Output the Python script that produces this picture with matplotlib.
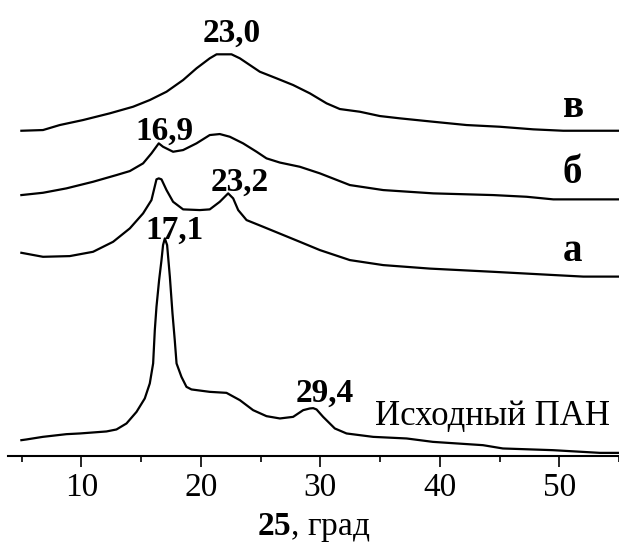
import matplotlib
matplotlib.use("Agg")
import matplotlib.pyplot as plt
from matplotlib.ticker import MultipleLocator

plt.rcParams['font.family'] = ['Liberation Serif', 'DejaVu Serif']
plt.rcParams['mathtext.fontset'] = 'custom'
plt.rcParams['mathtext.rm'] = 'Liberation Serif'
plt.rcParams['mathtext.bf'] = 'Liberation Serif:bold'

# исходный ПАН
x_pan = [4.97, 5.39, 6.76, 8.74, 9.86, 12.09, 12.93, 13.77, 14.61, 15.30, 15.72, 16.0,
         16.14, 16.28, 16.5, 16.7, 16.83, 16.98, 17.17, 17.40, 17.62, 17.81, 17.96, 18.37,
         18.79, 19.21, 20.74, 22.14, 23.26, 24.37, 25.49, 26.61, 27.72, 28.56, 29.12, 29.40,
         29.68, 30.23, 31.21, 32.19, 34.42, 37.22, 39.42, 43.61, 45.28, 49.47, 53.41, 55.0]
y_pan = [15.7, 16.4, 19.0, 21.7, 22.4, 24.4, 26.4, 32.4, 44.0, 57.4, 72.4, 92.4,
         125.7, 149.0, 175.7, 195.7, 210.7, 217.4, 210.7, 179.0, 142.4, 115.7, 92.4, 79.0,
         69.0, 66.4, 64.0, 63.0, 55.7, 45.7, 39.7, 37.4, 39.0, 45.7, 47.4, 47.7,
         46.4, 39.0, 27.4, 22.4, 19.0, 17.4, 14.0, 10.7, 7.4, 5.7, 3.0, 3.0]

# образец а
x_a = [4.97, 6.78, 9.02, 10.97, 12.65, 14.05, 15.16, 15.86, 16.28, 16.47, 16.70, 17.12,
       17.67, 18.51, 19.91, 20.74, 21.58, 22.28, 22.70, 23.12, 23.82, 25.21, 28.28, 29.96,
       32.47, 35.26, 39.17, 44.47, 49.64, 52.01, 55.0]
y_a = [203.0, 199.0, 199.7, 204.0, 214.0, 227.4, 242.4, 255.7, 276.4, 277.4, 276.4, 265.7,
       254.0, 246.4, 245.7, 246.4, 254.0, 262.4, 257.4, 245.7, 235.7, 229.0, 214.0, 205.7,
       195.7, 190.7, 187.2, 184.0, 180.7, 179.2, 179.2]

# образец б
x_b = [4.97, 6.78, 8.74, 10.97, 12.93, 14.05, 15.16, 15.86, 16.47, 16.83, 17.67, 18.51,
       19.63, 20.74, 21.58, 22.42, 23.53, 24.66, 25.49, 26.61, 28.28, 29.96, 32.47, 35.26,
       39.45, 44.47, 47.27, 49.50, 55.0]
y_b = [260.7, 263.0, 267.4, 274.0, 280.7, 284.7, 292.4, 302.4, 312.4, 309.0, 304.0, 305.7,
       312.4, 320.7, 321.7, 319.0, 312.4, 304.0, 297.4, 293.2, 289.0, 282.4, 270.7, 265.7,
       262.4, 260.7, 259.0, 256.4, 256.4]

# образец в
x_v = [4.97, 6.78, 8.18, 10.13, 12.37, 14.32, 15.72, 17.12, 18.51, 19.63, 20.74, 21.31,
       22.56, 23.26, 24.93, 26.33, 27.72, 29.12, 30.52, 31.63, 33.31, 34.98, 36.66, 39.45,
       42.24, 45.03, 47.82, 50.33, 55.0]
y_v = [325.0, 325.7, 330.7, 335.7, 342.4, 349.0, 355.7, 364.0, 375.7, 387.4, 397.4, 401.4,
       401.4, 397.4, 384.0, 377.4, 370.7, 362.4, 352.4, 346.7, 344.0, 339.7, 337.4, 334.0,
       330.7, 329.0, 326.4, 325.0, 325.0]

# подписи пиков
peak_text = ["23,0", "16,9", "23,2", "17,1", "29,4"]
peak_x = [22.56, 16.91, 23.26, 17.8, 30.38]
peak_y = [414.0, 315.7, 265.0, 217.4, 54.0]

curve_names = ["в", "б", "а"]
name_x = [51.2, 51.1, 51.1]
name_y = [339.0, 272.4, 194.7]

fig = plt.figure(figsize=(6.19, 5.44), dpi=100)
ax = fig.add_axes([8 / 619, 0.162, 1 - 8 / 619, 0.838])

for xs, ys in [(x_pan, y_pan), (x_a, y_a), (x_b, y_b), (x_v, y_v)]:
    ax.plot(xs, ys, color='black', lw=1.6)

for t, px, py in zip(peak_text, peak_x, peak_y):
    ax.text(px, py, t, fontsize=24, fontweight='bold', ha='center', va='baseline')

for t, px, py in zip(curve_names, name_x, name_y):
    ax.text(px, py, t, fontsize=28, fontweight='bold', ha='center', va='baseline')

ax.text(44.4, 30.7, "Исходный ПАН", fontsize=25, ha='center', va='baseline')

ax.set_xlim(3.85, 55.0)
ax.set_ylim(0, 455.7)
ax.xaxis.set_major_locator(MultipleLocator(10))
ax.xaxis.set_minor_locator(MultipleLocator(5))
ax.tick_params(axis='x', which='major', length=8, width=1.2, labelsize=24, pad=4)
ax.tick_params(axis='x', which='minor', length=4.5, width=1.2)
ax.set_yticks([])
for s in ['left', 'top', 'right']:
    ax.spines[s].set_visible(False)
ax.spines['bottom'].set_linewidth(1.5)
ax.set_xlabel(r"$\mathbf{25}$, град", fontsize=24, labelpad=6)

fig.savefig("out.png", dpi=100)
